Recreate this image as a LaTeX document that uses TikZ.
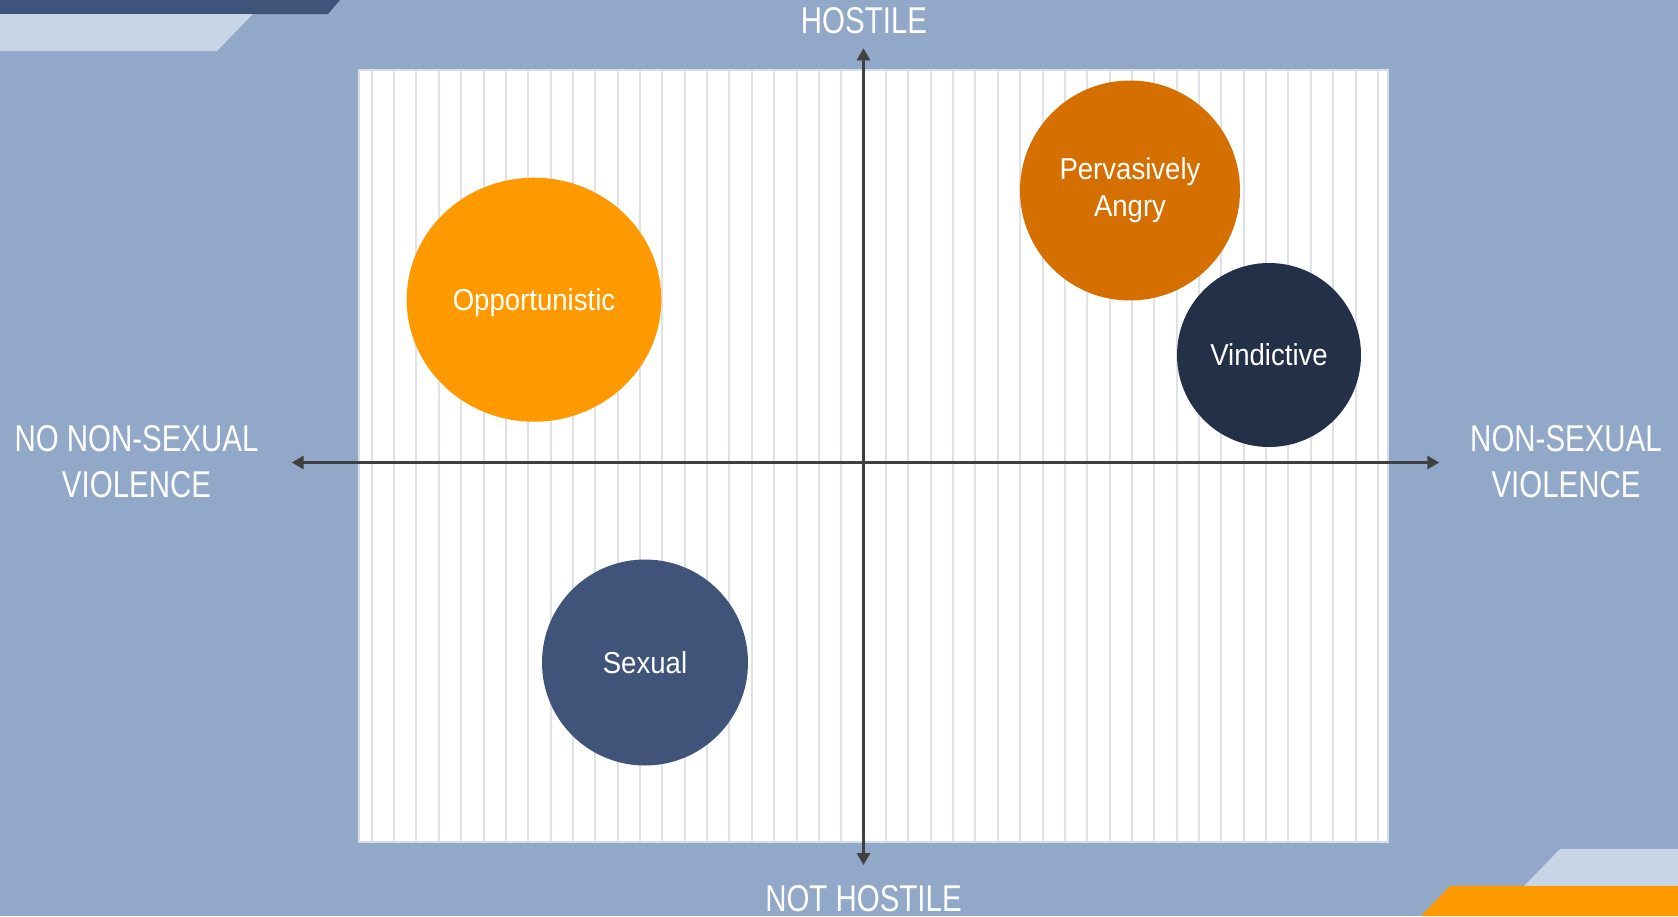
\documentclass[tikz,border=0pt]{standalone}
\usepackage{fontspec}
\setmainfont{Liberation Sans}
\newfontfamily\capsfont[FakeStretch=0.79]{Liberation Sans}
\newfontfamily\lblfont[FakeStretch=0.91]{Liberation Sans}
\usetikzlibrary{arrows.meta,shapes.geometric}
\definecolor{bg}{RGB}{145,168,200}
\definecolor{darkbar}{RGB}{62,84,121}
\definecolor{lightbar}{RGB}{200,213,231}
\definecolor{orangeA}{RGB}{255,153,0}
\definecolor{orangeB}{RGB}{212,111,0}
\definecolor{navyA}{RGB}{36,48,71}
\definecolor{navyB}{RGB}{63,84,120}
\definecolor{axisgray}{RGB}{64,64,64}
\definecolor{gridgray}{RGB}{222,225,230}
\definecolor{frame}{RGB}{215,221,230}
\tikzset{
  axislabel/.style={anchor=base, text=white, inner sep=0pt, font=\capsfont\fontsize{37.3}{45}\selectfont},
  bubble/.style={circle, inner sep=0pt, text=white, align=center, font=\lblfont\fontsize{30.3}{36.7}\selectfont},
  axisline/.style={draw=axisgray, line width=3.5pt, {Triangle[length=12pt,width=13pt]}-{Triangle[length=12pt,width=13pt]}},
  gridline/.style={draw=gridgray, line width=2pt}
}
\begin{document}
\begin{tikzpicture}[x=1pt,y=-1pt]
\useasboundingbox (0,0) rectangle (1678,916);
\fill[bg] (0,0) rectangle (1678,916);
% corner decorations
\fill[darkbar] (0,0) -- (340,0) -- (328,14) -- (0,14) -- cycle;
\fill[lightbar] (0,14) -- (253,14) -- (217,51) -- (0,51) -- cycle;
\fill[lightbar] (1560,849) -- (1678,849) -- (1678,886) -- (1524,886) -- cycle;
\fill[orangeA] (1450,886) -- (1678,886) -- (1678,916) -- (1421,916) -- cycle;
% plot area
\node[draw=frame, fill=white, line width=2pt, minimum width=1029pt, minimum height=772pt, inner sep=0pt] (plot) at (873.25,455.75) {};
\foreach \k in {0,...,45} {
  \draw[gridline] ({371.7+22.36*\k},71) -- ({371.7+22.36*\k},841);
}
% axes
\coordinate (xL) at (291.7,462.5);
\coordinate (xR) at (1439.3,462.5);
\coordinate (yT) at (863.5,48.3);
\coordinate (yB) at (863.5,865);
\draw[axisline] (xL) -- (xR);
\draw[axisline] (yT) -- (yB);
% axis labels
\node[axislabel] (hostile) at (864,33.3) {HOSTILE};
\node[axislabel] (nothostile) at (863.5,911.7) {NOT HOSTILE};
\node[axislabel] (leftA) at (136.5,451.7) {NO NON-SEXUAL};
\node[axislabel] (leftB) at (136.5,497.3) {VIOLENCE};
\node[axislabel] (rightA) at (1566,451.7) {NON-SEXUAL};
\node[axislabel] (rightB) at (1566,497.3) {VIOLENCE};
% bubbles
\node[bubble, ellipse, fill=orangeA, minimum width=254.6pt, minimum height=244pt, text depth=0pt] (opp) at (534,299.7) {Opportunistic};
\node[bubble, fill=orangeB, minimum size=220pt] (angry) at (1130,190.5) {Pervasively\\Angry};
\node[bubble, fill=navyA, minimum size=184pt] (vind) at (1269,355) {Vindictive};
\node[bubble, fill=navyB, minimum size=206pt] (sex) at (645,662.5) {Sexual};
\end{tikzpicture}
\end{document}
